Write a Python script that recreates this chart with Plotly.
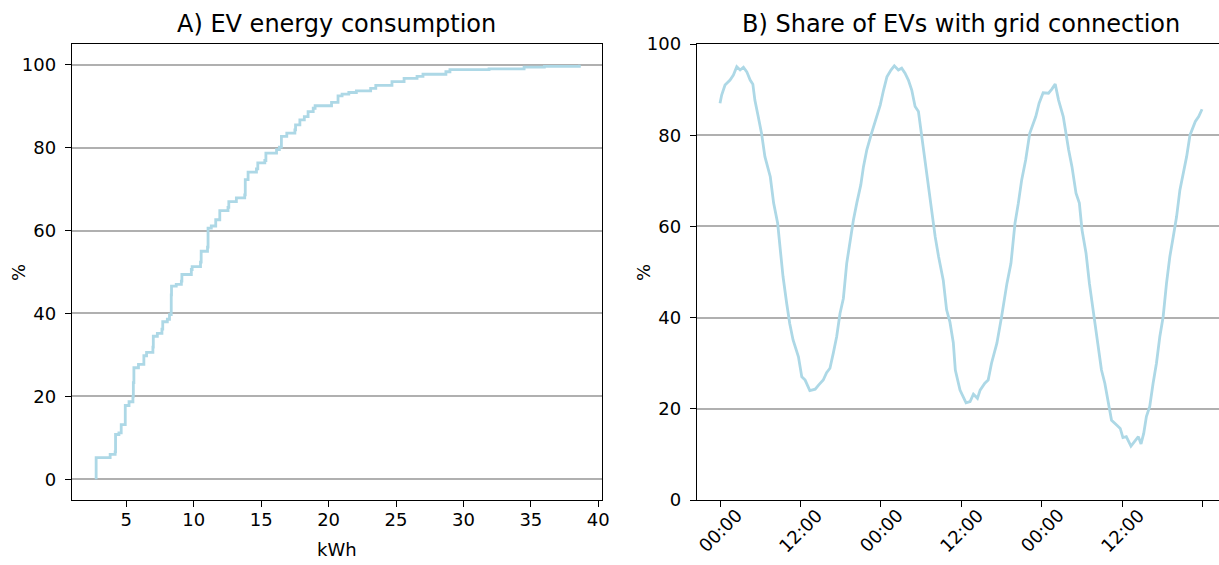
import plotly.graph_objects as go

# ---- Panel A: ECDF of EV energy consumption ----
ecdf_kwh = [2.76, 2.76, 3.8, 4.17, 4.2, 4.45, 4.62, 4.92, 5.2, 5.49, 5.52, 5.56, 5.9, 6.3, 6.5,
            6.97, 7.0, 7.3, 7.64, 7.7, 8.04, 8.2, 8.33, 8.35, 8.7, 9.08, 9.12, 9.82, 9.88, 10.5,
            10.55, 11.02, 11.06, 11.3, 11.63, 11.93, 12.54, 12.6, 13.16, 13.78, 13.82, 14.03,
            14.65, 14.75, 15.27, 15.35, 16.14, 16.35, 16.5, 16.9, 17.5, 17.55, 17.87, 18.2,
            18.48, 18.86, 19.0, 20.22, 20.7, 21.0, 21.5, 22.06, 23.12, 23.5, 24.7, 25.6, 26.56,
            27.0, 28.7, 29.0, 31.9, 34.5, 36.0, 38.6]
ecdf_pct = [0, 5.2, 6.0, 6.6, 10.8, 11.2, 13.2, 17.8, 18.7, 20.0, 23.3, 26.9, 27.7, 29.8, 30.6,
            31.9, 34.5, 35.2, 36.2, 38.0, 38.6, 39.7, 44.5, 46.6, 47.0, 47.8, 49.4, 50.6, 51.3, 52.4,
            55.0, 56.0, 60.6, 61.1, 62.6, 64.8, 65.6, 67.0, 67.9, 68.6, 72.3, 74.1,
            74.9, 76.3, 76.9, 78.7, 79.5, 80.1, 82.7, 83.5, 84.3, 85.5, 86.7, 87.5,
            88.7, 89.5, 90.1, 90.9, 92.5, 92.9, 93.3, 93.7, 94.3, 95.0, 95.9, 96.7, 97.2,
            97.7, 98.3, 98.8, 99.0, 99.4, 99.6, 100.0]

# ---- Panel B: share of EVs connected to the grid (hours from first midnight) ----
conn_hours = [0.0, 0.25, 0.75, 1.5, 2.0, 2.5, 3.0, 3.5, 4.0, 4.5, 4.9, 5.2, 5.7, 6.2, 6.7, 7.5,
              8.0, 8.6, 9.0, 9.4, 9.95, 10.4, 10.9, 11.7, 12.2, 12.7, 13.4, 14.2, 14.7, 15.4,
              15.9, 16.4, 16.9, 17.4, 17.9, 18.4, 18.9, 19.4, 19.9, 20.4, 21.0, 21.4, 21.9,
              22.6, 23.4, 23.9, 24.4, 24.9, 25.5, 26.0, 26.6, 27.1, 27.6, 28.1, 28.6, 29.1,
              29.6, 30.1, 30.6, 31.1, 31.6, 32.1, 32.6, 33.3, 33.8, 34.3, 34.8, 35.1, 35.8,
              36.7, 37.3, 37.8, 38.4, 38.8, 39.5, 40.0, 40.5, 41.3, 42.0, 42.8, 43.4, 44.0,
              44.5, 45.0, 45.6, 46.2, 47.1, 47.6, 48.2, 49.0, 49.5, 50.0, 50.5, 51.2, 52.0,
              52.5, 53.1, 53.6, 54.0, 54.6, 55.1, 55.7, 56.2, 56.9, 57.4, 57.9, 58.4, 59.2,
              59.7, 60.1, 60.6, 61.3, 61.9, 62.4, 62.8, 63.2, 63.6, 64.1, 64.6, 65.1, 65.6,
              66.1, 66.6, 67.1, 67.6, 68.1, 68.6, 69.1, 69.6, 70.1, 70.9, 71.4, 71.9]
conn_pct = [87.0, 88.8, 91.0, 92.1, 93.2, 95.0, 94.3, 94.9, 93.9, 92.1, 91.2, 87.7, 84.1, 80.4,
            75.3, 70.9, 65.1, 60.7, 54.8, 49.0, 43.1, 38.7, 35.1, 31.4, 27.0, 26.3, 24.0, 24.3,
            25.2, 26.3, 27.9, 28.9, 32.2, 35.8, 40.9, 44.2, 51.9, 57.0, 61.4, 65.1, 69.1, 73.1,
            76.8, 80.4, 84.1, 86.6, 89.9, 92.8, 94.3, 95.2, 94.3, 94.7, 93.6, 92.1, 89.9, 86.3,
            85.2, 79.7, 74.6, 68.0, 63.6, 57.7, 53.4, 48.2, 41.7, 39.0, 34.5, 28.5, 24.1,
            21.3, 21.6, 23.2, 22.3, 24.1, 25.6, 26.3, 30.0, 34.4, 40.2, 47.5, 51.9, 60.7,
            65.1, 70.2, 74.6, 80.4, 84.1, 87.0, 89.3, 89.2, 90.1, 91.2, 87.7, 84.1, 76.8,
            73.1, 67.3, 65.1, 59.2, 54.1, 47.5, 40.9, 35.1, 28.5, 25.6, 21.2, 17.5, 16.4,
            15.7, 13.7, 13.9, 11.8, 13.0, 13.9, 12.3, 14.6, 18.3, 20.5, 25.6, 30.0, 35.8,
            40.2, 47.5, 53.4, 57.7, 62.1, 68.0, 71.6, 75.3, 80.0, 83.0, 84.1, 85.7]

y_ticks = [0, 20, 40, 60, 80, 100]
kwh_ticks = [5, 10, 15, 20, 25, 30, 35, 40]
time_ticks = [0, 12, 24, 36, 48, 60, 72]
time_labels = ["00:00", "12:00", "00:00", "12:00", "00:00", "12:00", ""]

LINE = "#add8e6"
GRID = "#b0b0b0"
FONT = "DejaVu Sans"
TICKSIZE = 18
TITLESIZE = 24

fig = go.Figure()
fig.add_trace(go.Scatter(x=ecdf_kwh, y=ecdf_pct, mode="lines", line=dict(color=LINE, width=2.8, shape="hv"),
                         xaxis="x", yaxis="y", showlegend=False, hoverinfo="skip"))
fig.add_trace(go.Scatter(x=conn_hours, y=conn_pct, mode="lines", line=dict(color=LINE, width=2.8),
                         xaxis="x2", yaxis="y2", showlegend=False, hoverinfo="skip"))

axis_common = dict(showline=True, linecolor="black", linewidth=1.4, ticks="outside", ticklen=6,
                   tickwidth=1.4, tickcolor="black", zeroline=False, automargin=False,
                   tickfont=dict(family=FONT, size=TICKSIZE, color="black"))

fig.update_layout(
    template="none",
    width=1219, height=565,
    margin=dict(l=72, r=0, t=44, b=65, pad=0),
    paper_bgcolor="white", plot_bgcolor="white",
    font=dict(family=FONT, color="black"),
    xaxis=dict(domain=[0, 0.4621], range=[0.97, 40.28], tickvals=kwh_ticks, showgrid=False,
               mirror=True, anchor="y", ticklabelstandoff=-3, **axis_common),
    yaxis=dict(domain=[0, 1], range=[-5, 105], tickvals=y_ticks, showgrid=True, gridcolor=GRID,
               gridwidth=1.5, mirror=True, anchor="x", ticklabelstandoff=5, **axis_common),
    xaxis2=dict(domain=[0.5449, 1], range=[-3.43, 74.43], tickvals=time_ticks, showticklabels=False,
                showgrid=False, mirror=True, anchor="y2", **axis_common),
    yaxis2=dict(domain=[0, 1], range=[0, 100], tickvals=y_ticks, showgrid=True, gridcolor=GRID,
                gridwidth=1.5, mirror=False, anchor="x2", ticklabelstandoff=5, **axis_common),
)

ann = []
ann.append(dict(text="A) EV energy consumption", xref="paper", yref="paper", x=0.231, y=1.0439,
                xanchor="center", yanchor="middle", showarrow=False, font=dict(family=FONT, size=TITLESIZE)))
ann.append(dict(text="B) Share of EVs with grid connection", xref="paper", yref="paper", x=0.775, y=1.0439,
                xanchor="center", yanchor="middle", showarrow=False, font=dict(family=FONT, size=TITLESIZE)))
ann.append(dict(text="kWh", xref="paper", yref="paper", x=0.231, y=-0.1096, xanchor="center",
                yanchor="middle", showarrow=False, font=dict(family=FONT, size=TICKSIZE)))
ann.append(dict(text="%", xref="paper", yref="paper", x=-0.0471, y=0.5, xanchor="center",
                yanchor="middle", textangle=-90, showarrow=False, font=dict(family=FONT, size=TICKSIZE)))
ann.append(dict(text="%", xref="paper", yref="paper", x=0.4978, y=0.5, xanchor="center",
                yanchor="middle", textangle=-90, showarrow=False, font=dict(family=FONT, size=TICKSIZE)))
for tv, tl in zip(time_ticks, time_labels):
    if tl:
        ann.append(dict(text=tl, xref="x2", yref="paper", x=tv, y=-0.0658, xanchor="center",
                        yanchor="middle", textangle=-45, showarrow=False,
                        font=dict(family=FONT, size=TICKSIZE)))
fig.update_layout(annotations=ann)

fig.write_html(
    "out.html",
    config={"displayModeBar": False},
    post_script="document.body.style.margin='0';document.body.style.overflow='hidden';"
                "document.documentElement.style.overflow='hidden';",
)
